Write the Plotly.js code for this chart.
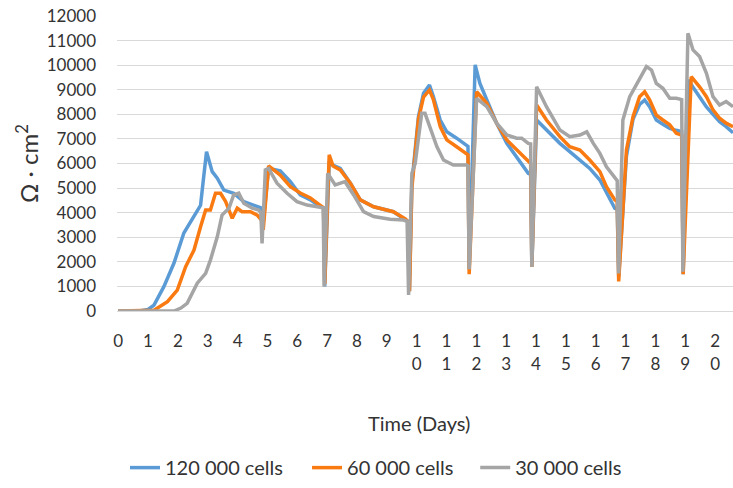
<!DOCTYPE html>
<html>
<head>
<meta charset="utf-8">
<script src="https://cdn.plot.ly/plotly-3.0.1.min.js"></script>
<style>html,body{margin:0;padding:0;background:#fff;}#chart{width:733px;height:488px;}</style>
</head>
<body>
<div id="chart"></div>
<script>
// Series names
const seriesNames = ["120 000 cells", "60 000 cells", "30 000 cells"];

// Time (days) and resistance values (Ω·cm²)
const dayBlue = [0, 0.7, 1.0, 1.2, 1.53, 1.87, 2.2, 2.42, 2.67, 2.76, 2.85, 2.96, 3.15, 3.32, 3.54, 3.87, 4.21, 4.66, 4.78, 4.85, 5.04, 5.43, 5.77, 6.1, 6.44, 6.77, 6.88, 6.92, 7.07, 7.44, 7.78, 8.11, 8.56, 9.22, 9.62, 9.7, 9.76, 9.84, 10.06, 10.23, 10.43, 10.56, 10.79, 11.01, 11.34, 11.68, 11.72, 11.76, 11.96, 12.12, 12.35, 12.68, 13.02, 13.35, 13.74, 13.82, 13.86, 14.02, 14.35, 14.8, 15.13, 15.47, 15.8, 16.14, 16.36, 16.64, 16.72, 16.77, 17.03, 17.25, 17.47, 17.64, 17.81, 18.03, 18.25, 18.48, 18.7, 18.88, 18.93, 19.1, 19.26, 19.48, 19.71, 19.93, 20.15, 20.37, 20.6];
const valBlue = [0, 0, 60, 240, 990, 1950, 3170, 3630, 4180, 4300, 5300, 6480, 5670, 5400, 4920, 4790, 4450, 4240, 4200, 3500, 5800, 5700, 5260, 4720, 4520, 4240, 4190, 1000, 6000, 5800, 5200, 4520, 4240, 4040, 3700, 3650, 800, 5200, 7900, 8860, 9190, 8720, 7770, 7290, 7030, 6750, 6700, 1700, 10010, 9260, 8580, 7640, 6820, 6280, 5600, 5550, 1800, 7770, 7360, 6820, 6480, 6140, 5800, 5330, 4790, 4180, 4150, 1400, 6300, 7800, 8400, 8580, 8300, 7770, 7600, 7430, 7350, 7300, 1500, 9400, 9100, 8700, 8300, 8000, 7700, 7500, 7250];

const dayOrange = [0, 1.0, 1.2, 1.65, 1.98, 2.26, 2.54, 2.76, 2.93, 3.09, 3.26, 3.43, 3.6, 3.82, 3.99, 4.15, 4.43, 4.66, 4.8, 4.86, 5.04, 5.43, 5.77, 6.1, 6.44, 6.77, 6.88, 6.92, 7.07, 7.2, 7.44, 7.78, 8.11, 8.56, 9.22, 9.62, 9.7, 9.76, 9.84, 10.06, 10.23, 10.43, 10.56, 10.79, 11.01, 11.34, 11.68, 11.72, 11.76, 12.01, 12.35, 12.68, 13.02, 13.35, 13.74, 13.82, 13.86, 14.02, 14.35, 14.8, 15.13, 15.47, 15.8, 16.14, 16.36, 16.64, 16.72, 16.77, 17.03, 17.25, 17.47, 17.64, 17.81, 18.03, 18.25, 18.48, 18.7, 18.88, 18.93, 19.2, 19.48, 19.71, 19.93, 20.15, 20.37, 20.6];
const valOrange = [0, 0, 30, 380, 850, 1800, 2480, 3430, 4110, 4110, 4790, 4790, 4450, 3770, 4180, 4040, 4040, 3900, 3700, 3300, 5900, 5530, 5060, 4800, 4600, 4300, 4200, 1100, 6350, 5900, 5740, 5200, 4520, 4240, 4040, 3750, 3650, 800, 5000, 7800, 8700, 8990, 8600, 7500, 6960, 6680, 6410, 6350, 1500, 8920, 8450, 7640, 6960, 6550, 6070, 6000, 1800, 8380, 7770, 7090, 6680, 6550, 6140, 5670, 5060, 4520, 4450, 1200, 6550, 7900, 8720, 8920, 8580, 7970, 7770, 7570, 7230, 7150, 1500, 9530, 9120, 8720, 8180, 7840, 7640, 7500];

const dayGray = [0, 1.87, 2.1, 2.31, 2.65, 2.93, 3.09, 3.32, 3.48, 3.71, 3.87, 4.04, 4.21, 4.49, 4.71, 4.78, 4.82, 4.93, 5.04, 5.32, 5.66, 5.99, 6.33, 6.77, 6.87, 6.9, 7.02, 7.27, 7.6, 7.89, 8.22, 8.56, 9.11, 9.56, 9.68, 9.73, 9.84, 9.95, 10.06, 10.17, 10.28, 10.45, 10.68, 10.9, 11.23, 11.68, 11.72, 11.76, 12.01, 12.35, 12.68, 13.02, 13.35, 13.52, 13.74, 13.82, 13.86, 14.02, 14.35, 14.8, 15.13, 15.47, 15.7, 15.92, 16.14, 16.36, 16.64, 16.72, 16.77, 16.91, 17.14, 17.47, 17.7, 17.87, 18.03, 18.25, 18.48, 18.7, 18.88, 18.92, 19.09, 19.26, 19.48, 19.71, 19.93, 20.15, 20.37, 20.6];
const valGray = [0, 0, 120, 310, 1130, 1530, 2070, 3020, 3900, 4180, 4720, 4790, 4380, 4180, 4110, 4000, 2750, 5740, 5800, 5200, 4790, 4450, 4310, 4240, 4200, 1000, 5600, 5130, 5260, 4720, 4040, 3840, 3730, 3700, 3650, 650, 5600, 6000, 6960, 8040, 8040, 7500, 6680, 6140, 5940, 5940, 5900, 1700, 8650, 8310, 7640, 7160, 7030, 7030, 6820, 6800, 1800, 9120, 8310, 7360, 7090, 7160, 7290, 6820, 6410, 5870, 5400, 5300, 1530, 7770, 8720, 9470, 9940, 9800, 9260, 9060, 8650, 8650, 8600, 1600, 11300, 10620, 10350, 9670, 8720, 8380, 8520, 8310];

// Axis ticks
const xTickVals = [0,1,2,3,4,5,6,7,8,9,10,11,12,13,14,15,16,17,18,19,20];
const xTickText = ["0","1","2","3","4","5","6","7","8","9","1<br>0","1<br>1","1<br>2","1<br>3","1<br>4","1<br>5","1<br>6","1<br>7","1<br>8","1<br>9","2<br>0"];
const yTickVals = [0,1000,2000,3000,4000,5000,6000,7000,8000,9000,10000,11000,12000];
const yTickText = ["0","1000","2000","3000","4000","5000","6000","7000","8000","9000","10000","11000","12000"];

const FONT = "Lato, 'Open Sans', sans-serif";
const colors = ["#5B9BD5", "#FA7A12", "#A5A5A5"];
const legendIds = ["legend", "legend2", "legend3"];

const traces = [
  {x: dayBlue, y: valBlue, name: seriesNames[0]},
  {x: dayOrange, y: valOrange, name: seriesNames[1]},
  {x: dayGray, y: valGray, name: seriesNames[2]}
].map((t, i) => Object.assign(t, {
  type: "scatter", mode: "lines", legend: legendIds[i],
  line: {color: colors[i], width: 3.5}
}));

function legendAt(xp) {
  return {orientation: "h", x: xp, xanchor: "left", y: -0.597, yanchor: "bottom",
          bgcolor: "rgba(0,0,0,0)", font: {family: FONT, size: 20, color: "#333"}};
}

const layout = {
  width: 733, height: 488,
  margin: {l: 117, r: 0, t: 16, b: 177},
  paper_bgcolor: "#fff", plot_bgcolor: "#fff",
  font: {family: FONT, size: 17, color: "#333"},
  showlegend: true,
  legend: legendAt(0.013),
  legend2: legendAt(0.3085),
  legend3: legendAt(0.5815),
  xaxis: {range: [-0.04, 20.6], tickvals: xTickVals, ticktext: xTickText, tickmode: "array",
          showgrid: false, zeroline: false, showline: true, linecolor: "#D9D9D9", linewidth: 1,
          ticks: "", ticklabelstandoff: 15, tickfont: {family: FONT, size: 17, color: "#333"}},
  yaxis: {range: [0, 12000], tickvals: yTickVals, ticktext: yTickText, tickmode: "array", showgrid: true,
          gridcolor: "#D9D9D9", gridwidth: 1, zeroline: false, showline: false, ticks: "",
          ticklabelstandoff: 20, tickfont: {family: FONT, size: 17, color: "#333"}},
  annotations: [
    {text: "Ω · cm<sup>2</sup>", xref: "paper", yref: "paper", x: -0.147, y: 0.5,
     xanchor: "center", yanchor: "middle", textangle: -90, showarrow: false,
     font: {family: FONT, size: 24, color: "#333"}},
    {text: "Time (Days)", xref: "paper", yref: "paper", x: 0.49, y: -0.38,
     xanchor: "center", yanchor: "middle", showarrow: false,
     font: {family: FONT, size: 20, color: "#333"}}
  ]
};

Plotly.newPlot("chart", traces, layout, {displayModeBar: false, staticPlot: true});
</script>
</body>
</html>
